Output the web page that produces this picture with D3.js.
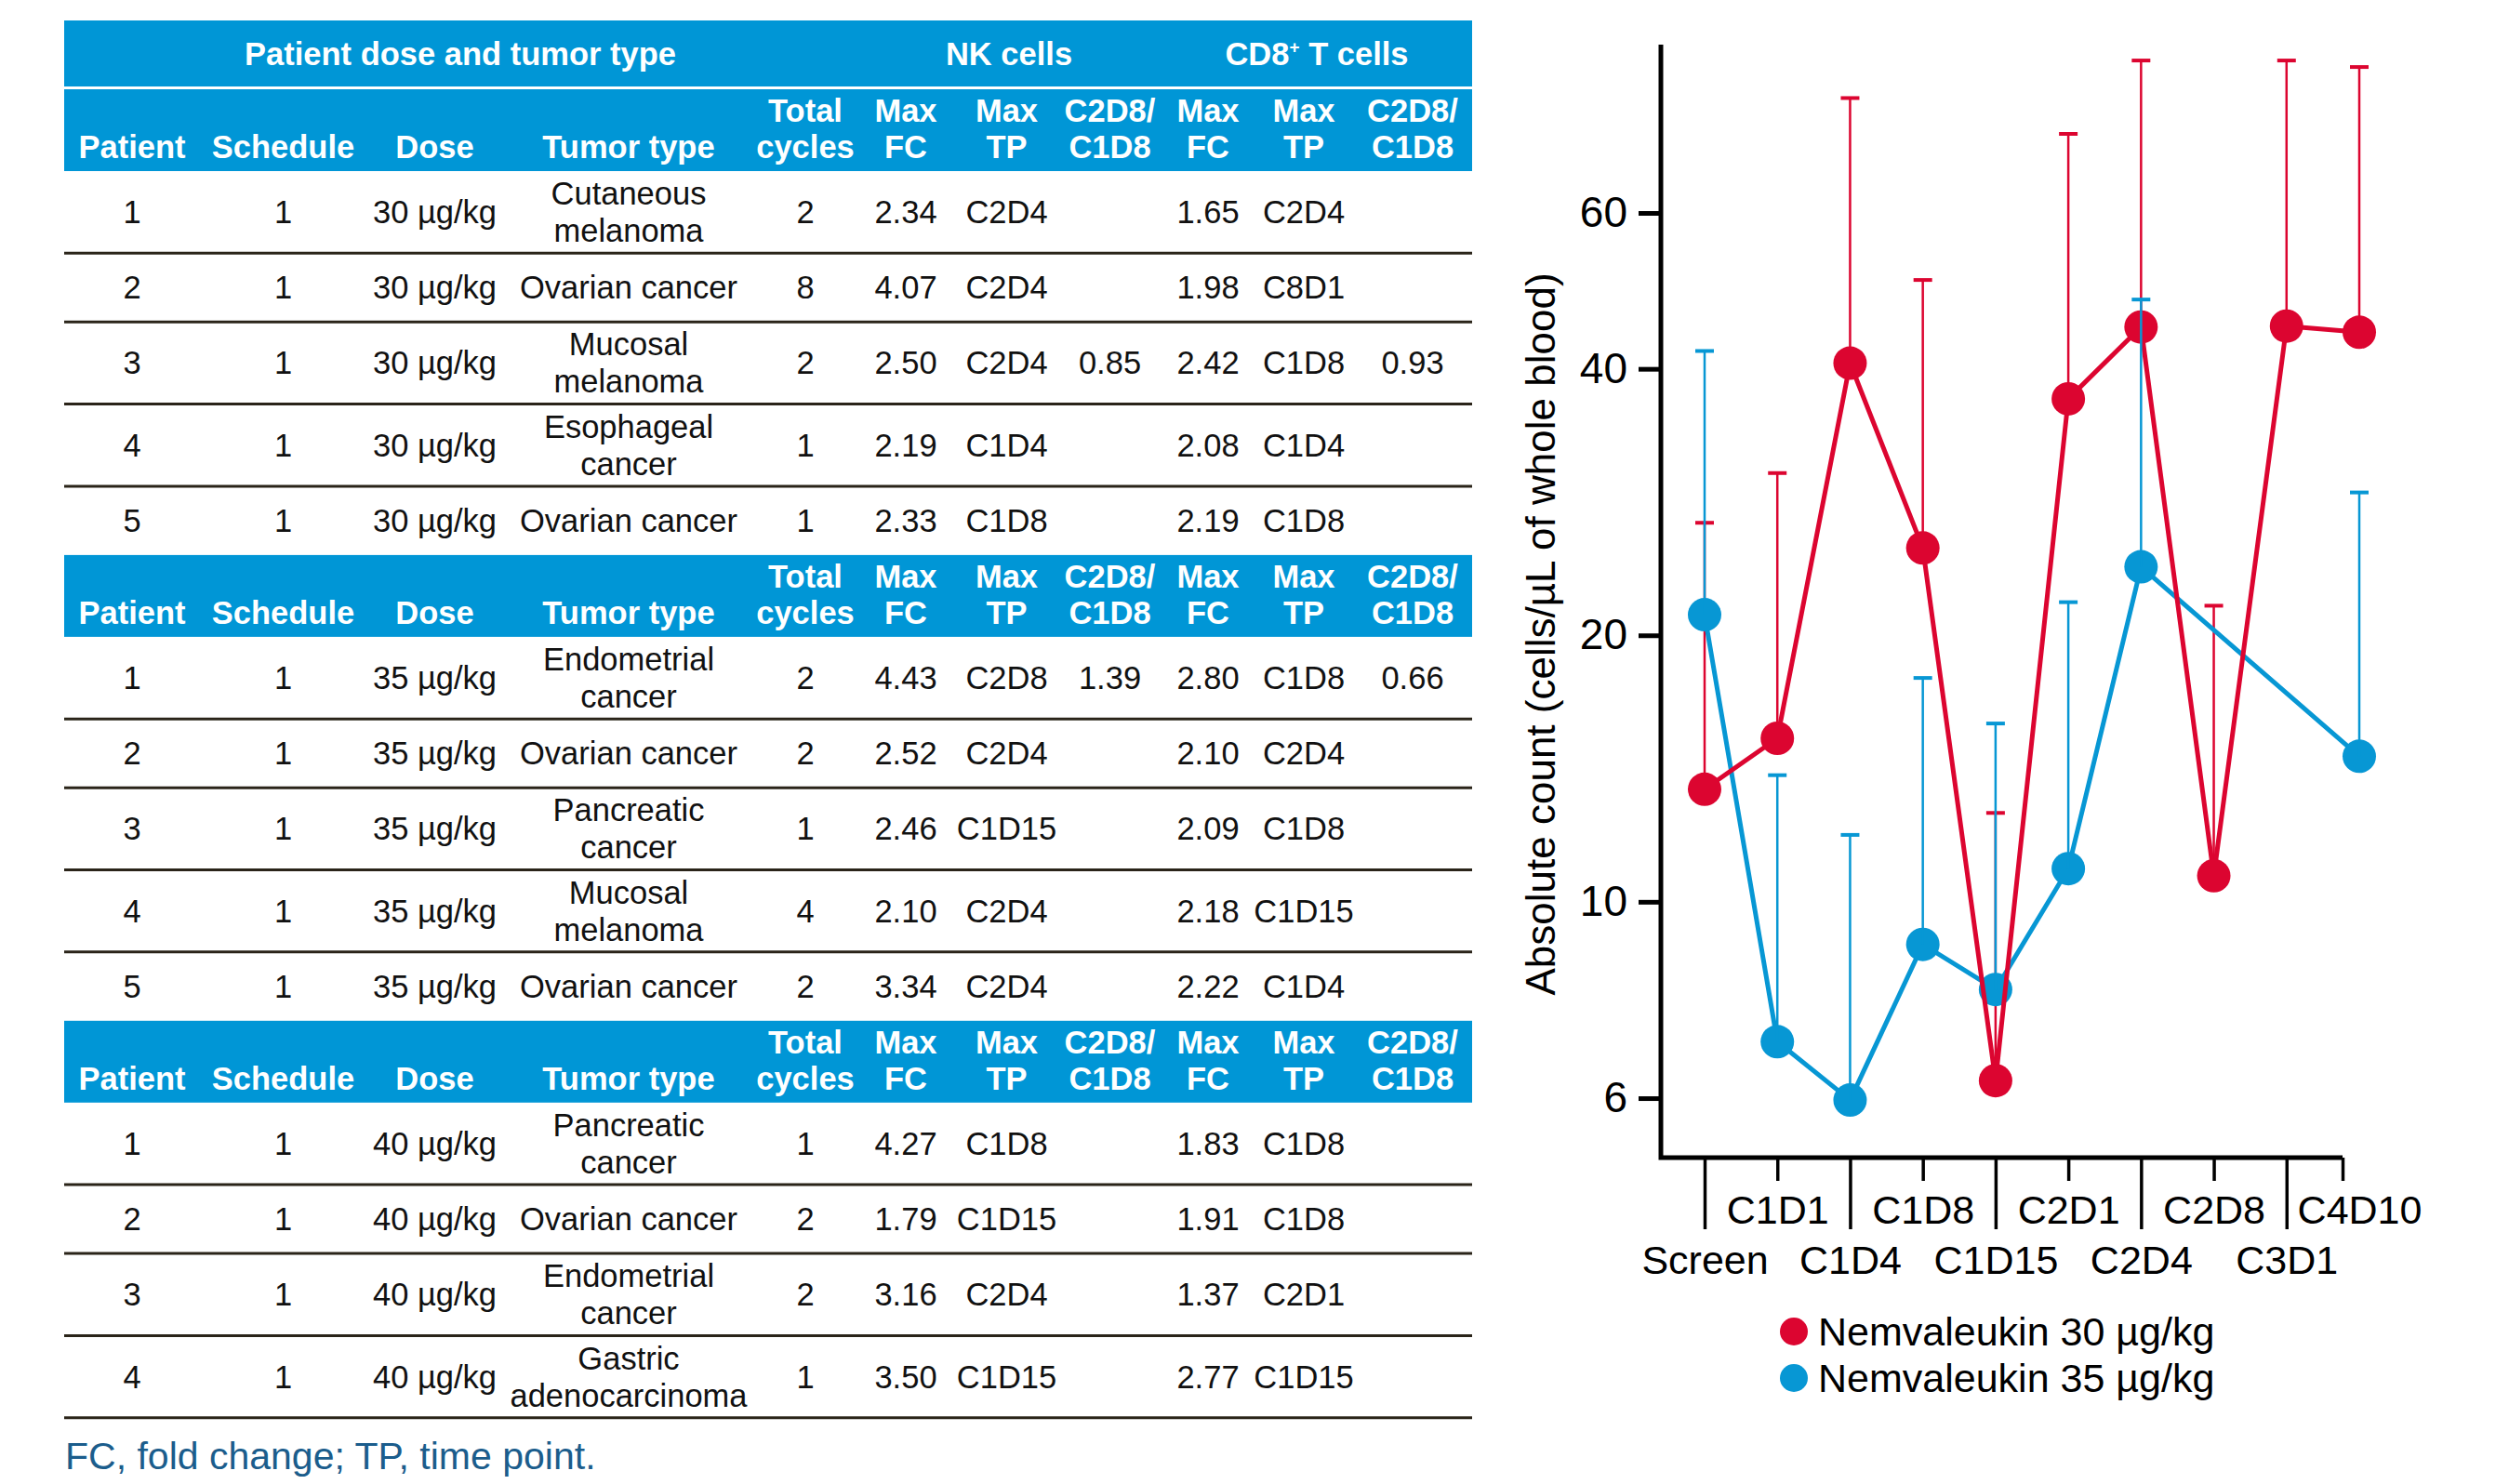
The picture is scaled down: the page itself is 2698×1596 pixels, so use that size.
<!DOCTYPE html>
<html lang="en">
<head>
<meta charset="UTF-8">
<title>Nemvaleukin dose, tumor type and lymphocyte counts</title>
<script src="https://d3js.org/d3.v7.min.js"></script>
<style>
  body { margin: 0; background: #fff; }
  svg { display: block; font-family: "Liberation Sans", Arial, Helvetica, sans-serif; }
</style>
</head>
<body>
<script>
// ---- table data ----
const groupHeaders = ["Patient dose and tumor type", "NK cells", "CD8"];
const colHeaders = [["Patient"], ["Schedule"], ["Dose"], ["Tumor type"], ["Total", "cycles"],
    ["Max", "FC"], ["Max", "TP"], ["C2D8/", "C1D8"], ["Max", "FC"], ["Max", "TP"], ["C2D8/", "C1D8"]];

// "|" splits a cell over two lines
const rows30 = [
    ["1", "1", "30 µg/kg", "Cutaneous|melanoma", "2", "2.34", "C2D4", "", "1.65", "C2D4", ""],
    ["2", "1", "30 µg/kg", "Ovarian cancer", "8", "4.07", "C2D4", "", "1.98", "C8D1", ""],
    ["3", "1", "30 µg/kg", "Mucosal|melanoma", "2", "2.50", "C2D4", "0.85", "2.42", "C1D8", "0.93"],
    ["4", "1", "30 µg/kg", "Esophageal|cancer", "1", "2.19", "C1D4", "", "2.08", "C1D4", ""],
    ["5", "1", "30 µg/kg", "Ovarian cancer", "1", "2.33", "C1D8", "", "2.19", "C1D8", ""]
];
const rows35 = [
    ["1", "1", "35 µg/kg", "Endometrial|cancer", "2", "4.43", "C2D8", "1.39", "2.80", "C1D8", "0.66"],
    ["2", "1", "35 µg/kg", "Ovarian cancer", "2", "2.52", "C2D4", "", "2.10", "C2D4", ""],
    ["3", "1", "35 µg/kg", "Pancreatic|cancer", "1", "2.46", "C1D15", "", "2.09", "C1D8", ""],
    ["4", "1", "35 µg/kg", "Mucosal|melanoma", "4", "2.10", "C2D4", "", "2.18", "C1D15", ""],
    ["5", "1", "35 µg/kg", "Ovarian cancer", "2", "3.34", "C2D4", "", "2.22", "C1D4", ""]
];
const rows40 = [
    ["1", "1", "40 µg/kg", "Pancreatic|cancer", "1", "4.27", "C1D8", "", "1.83", "C1D8", ""],
    ["2", "1", "40 µg/kg", "Ovarian cancer", "2", "1.79", "C1D15", "", "1.91", "C1D8", ""],
    ["3", "1", "40 µg/kg", "Endometrial|cancer", "2", "3.16", "C2D4", "", "1.37", "C2D1", ""],
    ["4", "1", "40 µg/kg", "Gastric|adenocarcinoma", "1", "3.50", "C1D15", "", "2.77", "C1D15", ""]
];
const footnote = "FC, fold change; TP, time point.";

// ---- chart data ----
const timepoints = ["Screen", "C1D1", "C1D4", "C1D8", "C1D15", "C2D1", "C2D4", "C2D8", "C3D1", "C4D10"];
const dose30 = [13.4, 15.3, 40.6, 25.1, 6.28, 37.0, 44.6, 10.7, 44.7, 44.0];
const dose30Upper = [26.8, 30.5, 80.9, 50.4, 12.6, 73.7, 89.2, 21.6, 89.2, 87.7];
const dose35 = [21.1, 6.95, 5.97, 8.95, 7.96, 10.9, 23.9, null, null, 14.6];
const dose35Upper = [41.9, 13.9, 11.9, 17.9, 15.9, 21.8, 47.9, null, null, 29.0];
const yTicks = [6, 10, 20, 40, 60];
const seriesNames = ["Nemvaleukin 30 µg/kg", "Nemvaleukin 35 µg/kg"];

const RED = "#dc0530";
const BLUE = "#0797d4";
const TABLE_BLUE = "#0096d6";
const RULE = "#2a2419";

const svg = d3.select("body").append("svg")
    .attr("width", 2698)
    .attr("height", 1596);

// ================= table =================
const colEdges = [69, 215, 394, 541, 811, 921, 1027, 1138, 1249, 1349, 1455, 1583];
const colMid = i => (colEdges[i] + colEdges[i + 1]) / 2;
const tableW = colEdges[colEdges.length - 1] - colEdges[0];
const fs = 34.5;

const table = svg.append("g");

table.append("rect")
    .attr("x", colEdges[0]).attr("y", 22)
    .attr("width", tableW).attr("height", 71)
    .attr("fill", TABLE_BLUE);

const groupSpans = [[0, 5], [5, 8], [8, 11]];
groupSpans.forEach((s, i) => {
    const t = table.append("text")
        .attr("x", (colEdges[s[0]] + colEdges[s[1]]) / 2)
        .attr("y", 70)
        .attr("text-anchor", "middle")
        .attr("fill", "#fff")
        .attr("font-weight", "bold")
        .attr("font-size", fs)
        .text(groupHeaders[i]);
    if (i === 2) {
        t.append("tspan").attr("font-size", fs * 0.55).attr("dy", -13).text("+");
        t.append("tspan").attr("dy", 13).text(" T cells");
    }
});

let yPos = 96;
const headerH = 88, twoLineH = 88.3, oneLineH = 74;
const sections = [rows30, rows35, rows40];

sections.forEach((rows, si) => {
    table.append("rect")
        .attr("x", colEdges[0]).attr("y", yPos)
        .attr("width", tableW).attr("height", headerH)
        .attr("fill", TABLE_BLUE);
    colHeaders.forEach((h, ci) => {
        const lines = h.length === 2 ? h : [null, h[0]];
        lines.forEach((ln, li) => {
            if (!ln) return;
            table.append("text")
                .attr("x", colMid(ci))
                .attr("y", yPos + (li === 0 ? 35 : 74))
                .attr("text-anchor", "middle")
                .attr("fill", "#fff")
                .attr("font-weight", "bold")
                .attr("font-size", fs)
                .text(ln);
        });
    });
    yPos += headerH;

    rows.forEach((row, ri) => {
        const two = row.some(c => c.includes("|"));
        const h = two ? twoLineH : oneLineH;
        const cy = yPos + h / 2;
        row.forEach((cell, ci) => {
            const lines = cell.split("|");
            lines.forEach((ln, li) => {
                table.append("text")
                    .attr("x", colMid(ci))
                    .attr("y", lines.length === 1 ? cy + 12 : cy - 8 + li * 40)
                    .attr("text-anchor", "middle")
                    .attr("fill", "#111")
                    .attr("font-size", fs)
                    .text(ln);
            });
        });
        yPos += h;
        const lastInSection = ri === rows.length - 1;
        if (!lastInSection || si === sections.length - 1) {
            table.append("line")
                .attr("x1", colEdges[0]).attr("x2", colEdges[colEdges.length - 1])
                .attr("y1", yPos).attr("y2", yPos)
                .attr("stroke", RULE)
                .attr("stroke-width", 3);
        }
    });
});

table.append("text")
    .attr("x", 70)
    .attr("y", 1580)
    .attr("fill", "#1b5d8c")
    .attr("font-size", 41)
    .text(footnote);

// ================= chart =================
const axisLeftX = 1786, axisBottomY = 1245, axisTopY = 48, axisEndX = 2519;

const x = d3.scalePoint().domain(timepoints).range([1833, 2537]);
const y = d3.scaleLog().domain([5.14, 92.96]).range([axisBottomY, axisTopY]);

const chart = svg.append("g");

// y axis ticks and labels
const yAxis = chart.append("g")
    .attr("transform", `translate(${axisLeftX},0)`)
    .call(d3.axisLeft(y).tickValues(yTicks).tickFormat(d3.format("d"))
        .tickSize(24).tickPadding(12));
yAxis.select(".domain").remove();
yAxis.selectAll(".tick line").attr("stroke", "#000").attr("stroke-width", 5);
yAxis.selectAll(".tick text")
    .attr("font-size", 46)
    .attr("font-family", "Liberation Sans, Arial, sans-serif")
    .attr("fill", "#000");

// x axis ticks, alternate lengths and label rows
const xAxis = chart.append("g")
    .attr("transform", `translate(0,${axisBottomY})`)
    .call(d3.axisBottom(x).tickSize(25).tickSizeOuter(0));
xAxis.select(".domain").remove();
xAxis.selectAll(".tick").each(function (d, i) {
    const tick = d3.select(this);
    const low = i % 2 === 0;
    const shift = i === timepoints.length - 1 ? axisEndX - x(d) : 0;
    tick.select("line")
        .attr("x1", shift).attr("x2", shift)
        .attr("y2", low ? 77 : 25)
        .attr("stroke", "#000")
        .attr("stroke-width", 3.5);
    tick.select("text")
        .attr("y", low ? 125 : 71)
        .attr("dy", 0)
        .attr("font-size", 43)
        .attr("font-family", "Liberation Sans, Arial, sans-serif")
        .attr("fill", "#000");
});

// axis lines
chart.append("path")
    .attr("d", `M${axisLeftX},${axisTopY}V${axisBottomY}H${axisEndX}`)
    .attr("fill", "none")
    .attr("stroke", "#000")
    .attr("stroke-width", 5);

// y axis title
chart.append("text")
    .attr("transform", "translate(1672,682) rotate(-90)")
    .attr("text-anchor", "middle")
    .attr("font-size", 44)
    .text("Absolute count (cells/µL of whole blood)");

function seriesData(vals, upper) {
    return timepoints.map((t, i) => ({ t, v: vals[i], up: upper[i] }))
        .filter(d => d.v != null);
}
const red = seriesData(dose30, dose30Upper);
const blue = seriesData(dose35, dose35Upper);

const line = d3.line().x(d => x(d.t)).y(d => y(d.v));

function drawErrors(data, color) {
    const g = chart.append("g");
    g.selectAll("line.err").data(data).join("line")
        .attr("class", "err")
        .attr("x1", d => x(d.t)).attr("x2", d => x(d.t))
        .attr("y1", d => y(d.v)).attr("y2", d => y(d.up))
        .attr("stroke", color).attr("stroke-width", 2.5);
    g.selectAll("line.cap").data(data).join("line")
        .attr("class", "cap")
        .attr("x1", d => x(d.t) - 10).attr("x2", d => x(d.t) + 10)
        .attr("y1", d => y(d.up)).attr("y2", d => y(d.up))
        .attr("stroke", color).attr("stroke-width", 4);
}

function drawSeries(data, color) {
    chart.append("path").datum(data)
        .attr("d", line)
        .attr("fill", "none")
        .attr("stroke", color)
        .attr("stroke-width", 5)
        .attr("stroke-linejoin", "round");
    chart.append("g").selectAll("circle").data(data).join("circle")
        .attr("cx", d => x(d.t)).attr("cy", d => y(d.v))
        .attr("r", 18)
        .attr("fill", color);
}

drawErrors(red, RED);
drawSeries(blue, BLUE);
drawSeries(red, RED);
drawErrors(blue, BLUE);

// legend
const legend = chart.append("g");
[RED, BLUE].forEach((c, i) => {
    legend.append("circle")
        .attr("cx", 1929).attr("cy", 1432 + i * 50)
        .attr("r", 15).attr("fill", c);
    legend.append("text")
        .attr("x", 1955).attr("y", 1432 + i * 50)
        .attr("dy", "0.35em")
        .attr("font-size", 43)
        .text(seriesNames[i]);
});
</script>
</body>
</html>
